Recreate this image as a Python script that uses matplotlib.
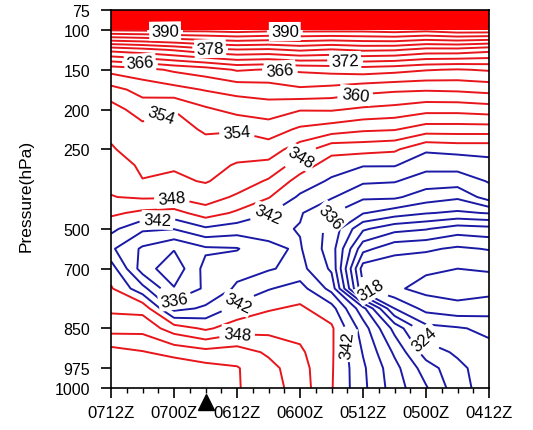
import matplotlib
matplotlib.use('Agg')
import matplotlib.pyplot as plt
import matplotlib.transforms as mtransforms
from matplotlib.ticker import MultipleLocator
import numpy as np

plt.rcParams['font.family'] = ['Liberation Sans', 'DejaVu Sans']

# x axis: hours after 0712Z (time runs backwards to the right)
hours = [0, 6, 12, 18, 24, 30, 36, 42, 48, 54, 60, 66, 72]
time_ticks = [0, 12, 24, 36, 48, 60, 72]
time_labels = ['0712Z', '0700Z', '0612Z', '0600Z', '0512Z', '0500Z', '0412Z']

# pressure levels of the grid rows (hPa)
levels_hpa = [75, 100, 125, 150, 175, 200, 225, 250, 300, 350, 400, 450,
              500, 600, 700, 750, 800, 850, 925, 975, 1000]
p_ticks = [75, 100, 150, 200, 250, 500, 700, 850, 975, 1000]

# theta-e (K), one row per pressure level
theta_e = [
    [440, 440, 440, 440, 440, 440, 440, 440, 440, 440, 440, 440, 440],
    [390.4, 390.6, 391, 391, 391.5, 391, 391, 391, 391, 391.5, 391, 392, 392],
    [373, 374, 375.3, 377, 377.8, 377.5, 378.5, 377.7, 378.5, 378.3, 377, 377, 376],
    [361, 362, 363.5, 364.5, 366.3, 365.8, 366.5, 367, 367.5, 367, 366.2, 365.8, 366.3],
    [356, 358, 359, 360.2, 361, 361.5, 362.5, 362, 361, 360.5, 360.3, 360.5, 361],
    [352.7, 355.5, 354.1, 356.5, 358, 358.5, 357.2, 357.3, 356.5, 356, 355, 355, 355.5],
    [351.5, 353.0, 352.5, 354.5, 354.3, 355.5, 353.5, 352.5, 351.5, 351.2, 349.5, 349.5, 349.5],
    [350.8, 352, 351.8, 352.5, 352, 352.5, 349.5, 346, 346, 345.5, 342.5, 343, 343],
    [349.5, 351.5, 351.3, 351.8, 350.8, 350.2, 346.5, 343.5, 342.2, 342.2, 340, 340, 341],
    [348.6, 350.9, 350.5, 351.2, 349.8, 347.6, 343.8, 341.5, 339.5, 339.2, 337.5, 337.5, 339.2],
    [347.9, 348.4, 348.3, 349.5, 347.5, 345.2, 341.5, 339.3, 336.5, 336.5, 334.5, 333.5, 337.5],
    [345.6, 344.3, 343.9, 346.5, 344.5, 342.2, 339.3, 336.2, 333.2, 331.5, 330.2, 329.5, 330.2],
    [342.8, 339.5, 339.1, 341.5, 340.5, 339.8, 338.8, 335, 327.5, 325, 324.2, 322.5, 323],
    [339.5, 335.5, 333.2, 335.5, 335.8, 338.5, 339.3, 334.5, 322, 319, 318.5, 317.5, 318.2],
    [343.5, 334.5, 331, 337, 338, 338.7, 340, 335.5, 316.5, 316, 315.5, 315, 315.2],
    [345.3, 340, 333.2, 336.5, 339.5, 341.8, 343.2, 338, 318.3, 315.5, 314, 313.5, 314],
    [347.4, 347, 338, 339.5, 343, 344.7, 345.5, 343.2, 334, 321, 317, 316, 316.5],
    [349.8, 350, 346.5, 344.5, 346.5, 347, 347, 345.5, 337.5, 329, 322, 321.3, 320.3],
    [355.2, 354.2, 353, 352, 352.5, 350.5, 348.5, 345.4, 338.8, 332.5, 325.5, 323.5, 322],
    [356.1, 356, 356, 355, 354.2, 352, 349.2, 345.3, 339.5, 334, 328.5, 324.8, 322.3],
    [356.2, 356, 356, 355.5, 354.2, 352.5, 349.5, 345.2, 339.7, 334.5, 330.3, 325.2, 322.5],
]

# where the line labels sit (hour, hPa)
label_spots = [(10.3, 99), (33.1, 99), (18.9, 120), (44.6, 139), (5.5, 144),
               (32.2, 149), (46.5, 182), (9, 197), (24, 225), (35.6, 262),
               (11.6, 400), (24, 869), (8.8, 462), (29.7, 447), (24.2, 790),
               (45, 900), (41.7, 462), (11.6, 796), (49.5, 755), (59.8, 881)]
marker_hour = 18

# the vertical axis in the original is spaced by level index, not by pressure
tick_pos = [0, 1, 3, 5, 7, 11, 13, 16, 18, 19]


def p_to_pos(p):
    return np.interp(p, p_ticks, tick_pos)


def pos_to_p(y):
    return np.interp(y, tick_pos, p_ticks)


fig = plt.figure(figsize=(5.33, 4.31), dpi=100)
ax = fig.add_axes([0.2083, 0.0974, 0.7092, 0.877])
ax.set_yscale('function', functions=(p_to_pos, pos_to_p))

X, P = np.meshgrid(hours, levels_hpa)
Z = np.array(theta_e)

red = '#e8151b'
blue = '#1a1aa6'
lev_odd = np.arange(315, 391, 6)    # unlabelled lines
lev_even = np.arange(312, 391, 6)   # lines that can carry a label


def line_cols(levs):
    return [red if lv >= 345 else blue for lv in levs]


ax.contourf(X, P, Z, levels=[392, 500], colors=['#ff0000'])
ax.contour(X, P, Z, levels=lev_odd, colors=line_cols(lev_odd), linewidths=1.4)
cs = ax.contour(X, P, Z, levels=lev_even, colors=line_cols(lev_even), linewidths=1.4)

lbls = ax.clabel(cs, manual=label_spots, inline=True, inline_spacing=4,
                 fmt='%d', fontsize=12, colors='k')
for t in lbls:
    t.set_bbox(dict(boxstyle='square,pad=0.12', fc='white', ec='none'))

ax.set_xlim(0, 72)
ax.set_ylim(1000, 75)
ax.set_xticks(time_ticks, time_labels)
ax.xaxis.set_minor_locator(MultipleLocator(3))
ax.set_yticks(p_ticks, [str(p) for p in p_ticks])
ax.yaxis.set_minor_locator(plt.NullLocator())

ax.tick_params(axis='x', which='major', length=7, width=1.2, direction='out',
               labelsize=12, pad=5)
ax.tick_params(axis='x', which='minor', length=3.5, width=1.0, direction='out')
ax.tick_params(axis='y', which='major', length=7, width=1.2, direction='out',
               labelsize=11.5, pad=8)
for s in ax.spines.values():
    s.set_linewidth(1.2)

ax.set_ylabel('Pressure(hPa)', fontsize=12.5)
ax.yaxis.set_label_coords(-0.205, 0.51)

trans = mtransforms.blended_transform_factory(ax.transData, ax.transAxes)
ax.plot([marker_hour], [-0.036], marker='^', color='k', markersize=11,
        transform=trans, clip_on=False, linestyle='none')

fig.savefig('out.png', dpi=100)
